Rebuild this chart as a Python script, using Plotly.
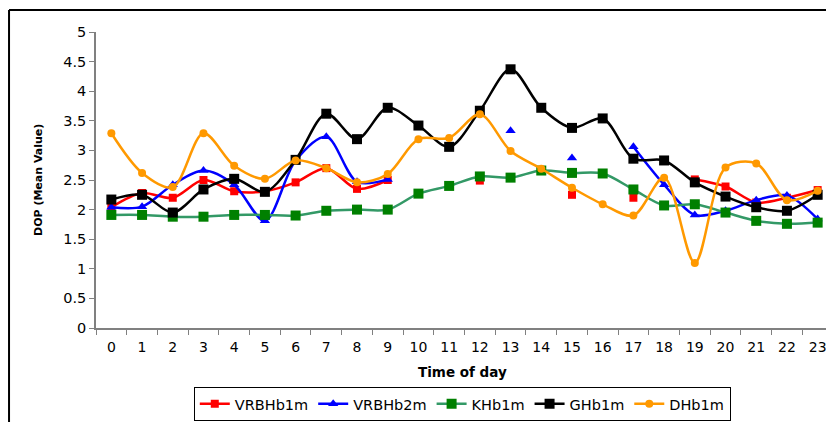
import plotly.graph_objects as go

hours = [str(h) for h in range(24)]

vrbhb1m = [2.04, 2.28, 2.20, 2.50, 2.31, 2.31, 2.46, 2.70, 2.35, 2.50,
           None, None, 2.49, None, None, 2.25, None, 2.20, None, 2.51,
           2.39, 2.12, 2.20, 2.33]
vrbhb2m = [2.04, 2.05, 2.42, 2.66, 2.42, 1.81, 2.83, 3.23, 2.47, 2.51,
           None, None, None, 3.33, None, 2.87, None, 3.06, 2.42, 1.91,
           1.98, 2.16, 2.24, 1.84]
khb1m = [1.91, 1.91, 1.88, 1.88, 1.91, 1.91, 1.90, 1.98, 2.00, 2.00,
         2.27, 2.40, 2.56, 2.54, 2.66, 2.62, 2.61, 2.34, 2.07, 2.09,
         1.95, 1.81, 1.76, 1.78]
ghb1m = [2.17, 2.25, 1.95, 2.34, 2.52, 2.30, 2.84, 3.62, 3.19, 3.72,
         3.42, 3.06, 3.67, 4.37, 3.72, 3.38, 3.54, 2.86, 2.83, 2.46,
         2.22, 2.04, 1.98, 2.25]
dhb1m = [3.29, 2.62, 2.38, 3.29, 2.74, 2.52, 2.83, 2.70, 2.46, 2.60,
         3.19, 3.21, 3.61, 2.99, 2.69, 2.37, 2.09, 1.90, 2.54, 1.10,
         2.71, 2.78, 2.16, 2.32]

series = [
    ("VRBHb1m", vrbhb1m, "#ff0000", "#ff0000", "square", 8),
    ("VRBHb2m", vrbhb2m, "#0000ff", "#0000ff", "triangle-up", 9),
    ("KHb1m", khb1m, "#339966", "#008000", "square", 10),
    ("GHb1m", ghb1m, "#000000", "#000000", "square", 10),
    ("DHb1m", dhb1m, "#ff9900", "#ff9900", "circle", 8),
]

fig = go.Figure()
for name, values, line_color, marker_color, symbol, size in series:
    fig.add_trace(go.Scatter(
        x=hours,
        y=values,
        name=name,
        mode="lines+markers",
        connectgaps=False,
        line={"color": line_color, "width": 2.5, "shape": "spline", "smoothing": 0.9},
        marker={"symbol": symbol, "size": size, "color": marker_color},
    ))

font_family = "DejaVu Sans, Arial, sans-serif"

# page body has an 8px margin, so the figure is sized 8px smaller
fig.update_layout(
    width=826,
    height=414,
    margin={"l": 88, "r": 1, "t": 24, "b": 94},
    paper_bgcolor="white",
    plot_bgcolor="white",
    font={"family": font_family, "size": 14, "color": "#000000"},
    showlegend=True,
    legend={
        "orientation": "h",
        "x": 0.497,
        "xanchor": "center",
        "y": -0.314,
        "yanchor": "bottom",
        "bordercolor": "#000000",
        "borderwidth": 1,
        "font": {"size": 14.5},
        "itemwidth": 30,
        "tracegroupgap": 0,
    },
    xaxis={
        "type": "category",
        "range": [-0.5, 23.5],
        "tickson": "boundaries",
        "ticks": "outside",
        "ticklen": 5,
        "tickcolor": "#808080",
        "showline": True,
        "linecolor": "#808080",
        "linewidth": 1.5,
        "showgrid": False,
        "zeroline": False,
        "ticklabelstandoff": 5,
        "tickfont": {"size": 14},
    },
    yaxis={
        "range": [0, 5],
        "dtick": 0.5,
        "ticks": "outside",
        "ticklen": 5,
        "tickcolor": "#808080",
        "showline": True,
        "linecolor": "#808080",
        "linewidth": 1.5,
        "showgrid": False,
        "zeroline": False,
        "tickfont": {"size": 14.5},
    },
)

fig.add_annotation(
    text="<b>DOP (Mean Value)</b>",
    xref="paper", yref="paper",
    x=-0.0787, y=0.5,
    xanchor="center", yanchor="middle",
    textangle=-90, showarrow=False,
    font={"size": 11, "family": font_family},
)
fig.add_annotation(
    text="<b>Time of day</b>",
    xref="paper", yref="paper",
    x=0.497, y=-0.149,
    xanchor="center", yanchor="middle",
    showarrow=False,
    font={"size": 13.5, "family": font_family},
)

# outer chart frame (cropped at right and bottom)
fig.add_shape(type="line", xref="paper", yref="paper",
              x0=-0.1180, x1=-0.1180, y0=1.0743, y1=-0.35,
              line={"color": "#000000", "width": 2})
fig.add_shape(type="line", xref="paper", yref="paper",
              x0=-0.1180, x1=1.01, y0=1.0743, y1=1.0743,
              line={"color": "#000000", "width": 2})

fig.write_html("out.html")
